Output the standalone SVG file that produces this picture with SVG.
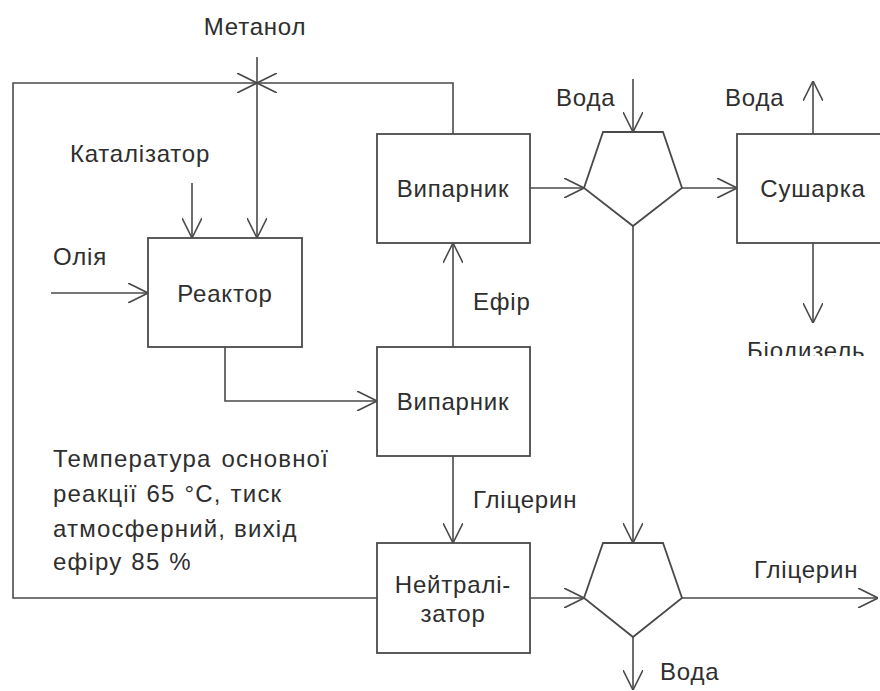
<svg xmlns="http://www.w3.org/2000/svg" width="880" height="691" viewBox="0 0 880 691">
<defs>
<marker id="arr" viewBox="0 0 20 20" refX="20" refY="10" markerWidth="20" markerHeight="20" markerUnits="userSpaceOnUse" orient="auto">
<path d="M0,0 L20,10 L0,20" fill="none" stroke="#4a4a4a" stroke-width="1.6"/>
</marker>
<clipPath id="clipBio"><rect x="700" y="320" width="180" height="36"/></clipPath>
</defs>
<style>
.box{fill:#fff;stroke:#4a4a4a;stroke-width:1.8}
.ln{fill:none;stroke:#4a4a4a;stroke-width:1.6}
.a{marker-end:url(#arr)}
text{font-family:"Liberation Sans",Arial,sans-serif;font-size:24px;letter-spacing:0.8px;fill:#2e2e2e}
.c{text-anchor:middle}
.p{letter-spacing:1.2px}
</style>
<rect width="880" height="691" fill="#fff"/>
<g id="connectors">
<path class="ln a" d="M377,598 H13 V83 H257"/>
<path class="ln a" d="M453,134 V83 H257"/>
<path class="ln a" d="M257,57 V238"/>
<path class="ln a" d="M192,183 V238"/>
<path class="ln a" d="M51,293 H148"/>
<path class="ln a" d="M225,347 V401 H377"/>
<path class="ln a" d="M453,347 V243"/>
<path class="ln a" d="M453,456 V543"/>
<path class="ln a" d="M530,188 H584"/>
<path class="ln a" d="M633,79 V132"/>
<path class="ln a" d="M682,188 H737"/>
<path class="ln a" d="M813,134 V81"/>
<path class="ln a" d="M813,243 V323"/>
<path class="ln a" d="M633,226 V543"/>
<path class="ln a" d="M530,598 H584"/>
<path class="ln a" d="M682,598 H878"/>
<path class="ln a" d="M633,637 V690"/>
</g>
<g id="reactor">
<rect class="box" x="148" y="238" width="154" height="109"/>
<text class="c" x="225" y="302">Реактор</text>
</g>
<g id="evaporator-top">
<rect class="box" x="377" y="134" width="153" height="109"/>
<text class="c" x="453" y="197">Випарник</text>
</g>
<g id="evaporator-bottom">
<rect class="box" x="377" y="347" width="153" height="109"/>
<text class="c" x="453" y="410">Випарник</text>
</g>
<g id="neutralizer">
<rect class="box" x="377" y="543" width="153" height="110"/>
<text class="c" x="453" y="593">Нейтралі-</text>
<text class="c" x="453" y="622">затор</text>
</g>
<g id="separator-top">
<polygon class="box" points="603,132 663,132 682,188 633,226 584,188"/>
</g>
<g id="separator-bottom">
<polygon class="box" points="603,543 663,543 682,598 633,637 584,598"/>
</g>
<g id="dryer">
<rect class="box" x="737" y="134" width="153" height="109"/>
<text class="c" x="813" y="197">Сушарка</text>
</g>
<g id="labels">
<text class="c" x="255" y="35">Метанол</text>
<text class="c" x="140" y="162">Каталізатор</text>
<text x="53" y="265">Олія</text>
<text x="473" y="310">Ефір</text>
<text x="473" y="508">Гліцерин</text>
<text x="556" y="106">Вода</text>
<text x="725" y="106">Вода</text>
<text x="747" y="359" clip-path="url(#clipBio)">Біодизель</text>
<text x="754" y="578">Гліцерин</text>
<text x="660" y="680">Вода</text>
<text class="p" x="53" y="467" word-spacing="2">Температура основної</text>
<text class="p" x="53" y="502" word-spacing="1">реакції 65 °C, тиск</text>
<text class="p" x="53" y="537" word-spacing="0">атмосферний, вихід</text>
<text class="p" x="53" y="570" word-spacing="1">ефіру 85 %</text>
</g>
</svg>
